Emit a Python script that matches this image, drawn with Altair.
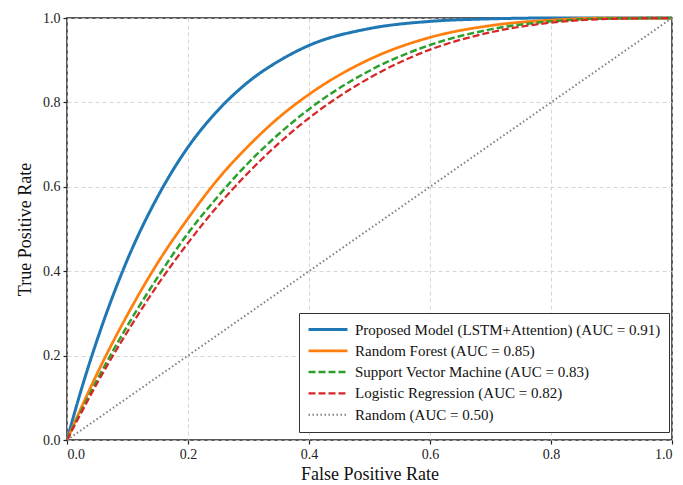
import altair as alt
import pandas as pd

fpr = [0.0, 0.02, 0.05, 0.1, 0.15, 0.2, 0.25, 0.3, 0.35, 0.4, 0.5, 0.6, 0.7, 0.8, 0.9, 1.0]
tpr_lstm = [0.0, 0.102, 0.238, 0.428, 0.577, 0.694, 0.782, 0.849, 0.898, 0.935, 0.975, 0.992, 0.998, 1.0, 1.0, 1.0]
tpr_rf = [0.0, 0.065, 0.158, 0.297, 0.420, 0.525, 0.619, 0.697, 0.764, 0.819, 0.902, 0.954, 0.982, 0.995, 1.0, 1.0]
tpr_svm = [0.0, 0.059, 0.143, 0.271, 0.386, 0.490, 0.578, 0.657, 0.725, 0.784, 0.875, 0.936, 0.973, 0.992, 0.999, 1.0]
tpr_lr = [0.0, 0.055, 0.135, 0.257, 0.368, 0.467, 0.556, 0.634, 0.703, 0.763, 0.858, 0.925, 0.966, 0.989, 0.998, 1.0]
fpr_rand = [0.0, 1.0]
tpr_rand = [0.0, 1.0]

names = [
    "Proposed Model (LSTM+Attention) (AUC = 0.91)",
    "Random Forest (AUC = 0.85)",
    "Support Vector Machine (AUC = 0.83)",
    "Logistic Regression (AUC = 0.82)",
    "Random (AUC = 0.50)",
]
colors = ["#1f77b4", "#ff7f0e", "#2ca02c", "#d62728", "#808080"]
dashes = [[1, 0], [1, 0], [7, 3], [7, 3], [1.5, 2.5]]
widths = [3, 2, 2, 2, 1.2]

rows = []
for name, xs, ys in [
    (names[0], fpr, tpr_lstm),
    (names[1], fpr, tpr_rf),
    (names[2], fpr, tpr_svm),
    (names[3], fpr, tpr_lr),
    (names[4], fpr_rand, tpr_rand),
]:
    for i, (a, b) in enumerate(zip(xs, ys)):
        rows.append({"model": name, "fpr": a, "tpr": b, "order": i})
df = pd.DataFrame(rows)

font = "Liberation Serif"

chart = alt.Chart(df).mark_line(interpolate="monotone").encode(
    x=alt.X("fpr:Q", title="False Positive Rate",
            scale=alt.Scale(domain=[0, 1], nice=False),
            axis=alt.Axis(values=[0, 0.2, 0.4, 0.6, 0.8, 1.0], format=".1f")),
    y=alt.Y("tpr:Q", title="True Positive Rate",
            scale=alt.Scale(domain=[0, 1], nice=False),
            axis=alt.Axis(values=[0, 0.2, 0.4, 0.6, 0.8, 1.0], format=".1f")),
    color=alt.Color("model:N", title=None,
                    scale=alt.Scale(domain=names, range=colors),
                    sort=names,
                    legend=alt.Legend(orient="none", legendX=232, legendY=295)),
    strokeDash=alt.StrokeDash("model:N", title=None,
                              scale=alt.Scale(domain=names, range=dashes),
                              sort=names),
    strokeWidth=alt.StrokeWidth("model:N", title=None,
                                scale=alt.Scale(domain=names, range=widths),
                                sort=names),
    order="order:Q",
).properties(
    width=605,
    height=422,
    autosize=alt.AutoSizeParams(type="none"),
    padding={"left": 59, "top": 10, "right": 3, "bottom": 46},
).configure_view(
    stroke="#222222", strokeWidth=1.5
).configure_axis(
    labelFont=font, titleFont=font, labelFontSize=14, titleFontSize=18,
    titleFontWeight="normal", labelColor="#222222", titleColor="#111111",
    grid=True, gridDash=[4, 3], gridColor="#cccccc", gridWidth=0.8,
    domain=False, tickColor="#222222", tickSize=4, tickWidth=1.2,
    labelPadding=3,
).configure_axisX(titlePadding=4).configure_axisY(titlePadding=8).configure_legend(
    labelFont=font, labelFontSize=15, labelColor="#111111",
    symbolType="stroke", symbolSize=1521, symbolStrokeWidth=2.5,
    strokeColor="#333333", fillColor="white", padding=8, cornerRadius=0,
    rowPadding=4.3, clipHeight=17, labelLimit=500, labelOffset=6,
)

chart.save("out.html", embed_options={"renderer": "svg", "actions": False})
